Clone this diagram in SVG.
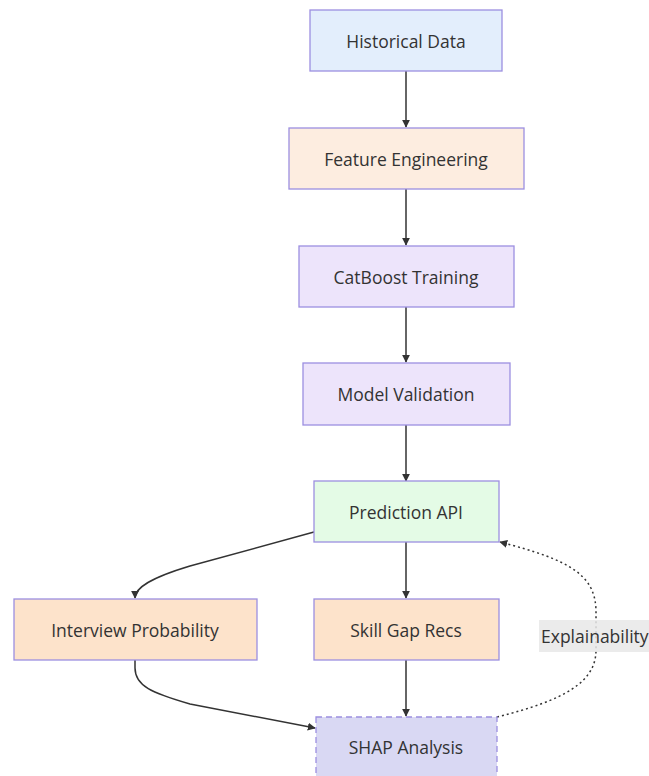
<svg xmlns="http://www.w3.org/2000/svg" width="649" height="776" viewBox="0 0 649 776">
<style>
.n rect{stroke:#9c8fe0;stroke-width:1.3}
.n text,.lb{font-family:"Open Sans","Liberation Sans",sans-serif;font-size:17.5px;fill:#333;text-anchor:middle;dominant-baseline:central}
.e{fill:none;stroke:#333;stroke-width:1.5}
.d{stroke-dasharray:2 3}
</style>
<defs>
<marker id="ah" viewBox="0 0 10 10" refX="9" refY="5" markerWidth="8" markerHeight="8" orient="auto" markerUnits="userSpaceOnUse">
<path d="M0,0 L10,5 L0,10 z" fill="#333"/>
</marker>
</defs>
<rect width="649" height="776" fill="#fff"/>
<g id="edges">
<path class="e" d="M406,71 L406,127" marker-end="url(#ah)"/>
<path class="e" d="M406,189 L406,245" marker-end="url(#ah)"/>
<path class="e" d="M406,307 L406,362" marker-end="url(#ah)"/>
<path class="e" d="M406,425 L406,481" marker-end="url(#ah)"/>
<path class="e" d="M406,542 L406,598" marker-end="url(#ah)"/>
<path class="e" d="M406,660 L406,716" marker-end="url(#ah)"/>
<path class="e" d="M314,532 L190,566 C150,578 135,588 135,598" marker-end="url(#ah)"/>
<path class="e" d="M135,660 L135,668 C135,686 152,693 190,704 L315,728" marker-end="url(#ah)"/>
<path class="e d" d="M497,717 C565,700 596,682 596,650 L596,612 C596,575 570,560 500,542" marker-end="url(#ah)"/>
</g>
<g id="elabel">
<rect x="539" y="620" width="115" height="32" fill="#e8e8e8" opacity="0.85"/>
<text class="lb" x="541" y="636" style="text-anchor:start">Explainability</text>
</g>
<g id="historical" class="n"><rect x="310" y="10" width="192" height="61" fill="#e3eefc"/><text x="406" y="40.5">Historical Data</text></g>
<g id="feature" class="n"><rect x="289" y="128" width="235" height="61" fill="#fdede0"/><text x="406" y="158.5">Feature Engineering</text></g>
<g id="catboost" class="n"><rect x="299" y="246" width="215" height="61" fill="#ede4fb"/><text x="406" y="276.5">CatBoost Training</text></g>
<g id="validation" class="n"><rect x="303" y="363" width="207" height="62" fill="#ede4fb"/><text x="406" y="394">Model Validation</text></g>
<g id="prediction" class="n"><rect x="314" y="481" width="185" height="61" fill="#e4fbe6"/><text x="406" y="511.5">Prediction API</text></g>
<g id="interview" class="n"><rect x="14" y="599" width="243" height="61" fill="#fde3cb"/><text x="135" y="629.5">Interview Probability</text></g>
<g id="skillgap" class="n"><rect x="314" y="599" width="185" height="61" fill="#fde3cb"/><text x="406" y="629.5">Skill Gap Recs</text></g>
<g id="shap" class="n"><rect x="316" y="717" width="181" height="62" fill="#d9d8f3" stroke-dasharray="6 4"/><text x="406" y="747">SHAP Analysis</text></g>
</svg>
